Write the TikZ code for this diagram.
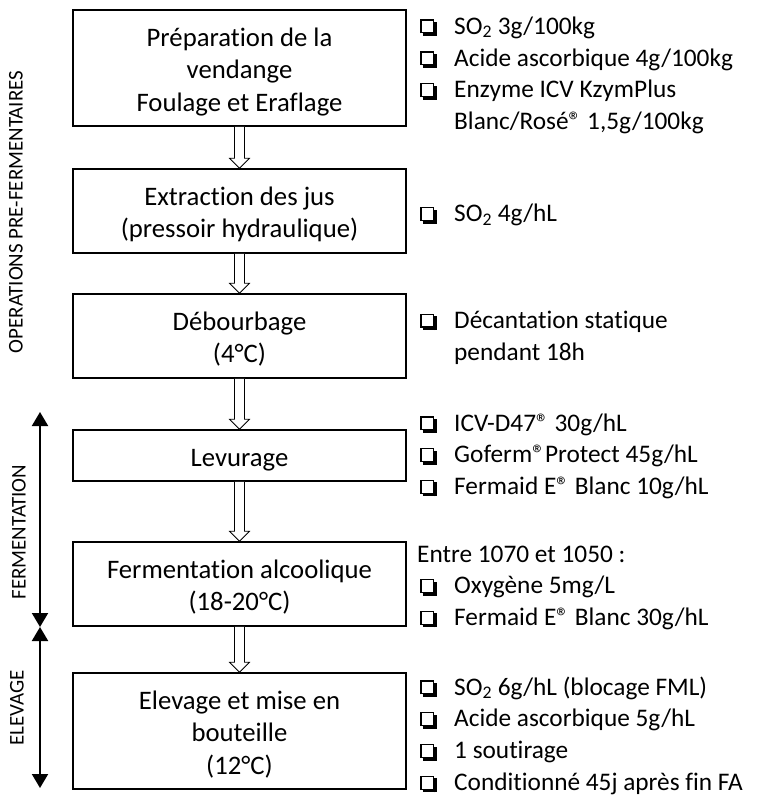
\documentclass[tikz,border=0pt]{standalone}
\usepackage{fontspec}
\setmainfont{Carlito}[Ligatures={NoCommon}]
\usetikzlibrary{arrows.meta,calc}
% shadowed check box glyph (Wingdings-like)
\newcommand\chkglyph{{\setlength{\unitlength}{1bp}%
  \raisebox{0.8bp}{\begin{picture}(16.5,14)(0,0)
    \put(0,0){\rule{14bp}{1.3bp}}
    \put(0,12.7){\rule{14bp}{1.3bp}}
    \put(0,0){\rule{1.3bp}{14bp}}
    \put(12.7,0){\rule{1.3bp}{14bp}}
    \put(14,-2.5){\rule{2.5bp}{14bp}}
    \put(2.5,-2.5){\rule{14bp}{2.5bp}}
  \end{picture}}}}
\newcommand\chk{\makebox[34bp][l]{\chkglyph}}
\newcommand\ind{\hspace*{34bp}}
\newcommand\boxtext[1]{\raisebox{-4.2bp}[\height][\depth]{\begin{tabular}{@{}c@{}}#1\end{tabular}}}
\newcommand\hollow[2]{\path[hollowarrow] let \p1=(#1.south), \p2=(#2.north) in
  (\x1-5bp,\y1) -- (\x1-5bp,\y2+10bp) -- (\x1-10bp,\y2+10bp) -- (\x1,\y2) --
  (\x1+10bp,\y2+10bp) -- (\x1+5bp,\y2+10bp) -- (\x1+5bp,\y1);}
\begin{document}
\begin{tikzpicture}[x=1bp,y=-1bp,
  stepbox/.style={draw, line width=1.5bp, minimum width=333bp,
    inner sep=0pt, font=\fontsize{26.8}{32.5}\selectfont},
  note/.style={anchor=west, inner sep=0pt, font=\fontsize{25.4}{32}\selectfont},
  hollowarrow/.style={draw, line width=0.8bp, fill=white},
  phase/.style={rotate=90, inner sep=0pt, font=\fontsize{21}{25}\selectfont},
  phasearrow/.style={line width=2bp,
    {Triangle[length=14bp,width=16bp]}-{Triangle[length=14bp,width=16bp]}}
]
\useasboundingbox (0,0) rectangle (761,796);

% process boxes
\node[stepbox, minimum height=116bp] (b1) at (239.5,68)
  {\boxtext{Préparation de la\\vendange\\Foulage et Eraflage}};
\node[stepbox, minimum height=84bp] (b2) at (239.5,211)
  {\boxtext{Extraction des jus\\(pressoir hydraulique)}};
\node[stepbox, minimum height=84bp] (b3) at (239.5,336)
  {\boxtext{Débourbage\\(4°C)}};
\node[stepbox, minimum height=51bp] (b4) at (239.5,455.5)
  {\boxtext{Levurage}};
\node[stepbox, minimum height=84bp] (b5) at (239.5,584)
  {\boxtext{Fermentation alcoolique\\(18-20°C)}};
\node[stepbox, minimum height=116bp] (b6) at (239.5,731)
  {\boxtext{Elevage et mise en\\bouteille\\(12°C)}};

% hollow arrows
\hollow{b1}{b2}
\hollow{b2}{b3}
\hollow{b3}{b4}
\hollow{b4}{b5}
\hollow{b5}{b6}

% notes
\node[note] (n1) at (420,75.6) {\begin{tabular}{@{}l@{}}
  \chk SO\textsubscript{2} 3g/100kg\\
  \chk Acide ascorbique 4g/100kg\\
  \chk Enzyme ICV KzymPlus\\
  \ind Blanc/Rosé® 1,5g/100kg\end{tabular}};
\node[note] (n2) at (420,215.6) {\begin{tabular}{@{}l@{}}
  \chk SO\textsubscript{2} 4g/hL\end{tabular}};
\node[note] (n3) at (420,338) {\begin{tabular}{@{}l@{}}
  \chk Décantation statique\\
  \ind pendant 18h\end{tabular}};
\node[note] (n4) at (420,456.5) {\begin{tabular}{@{}l@{}}
  \chk ICV-D47® 30g/hL\\
  \chk Goferm®Protect 45g/hL\\
  \chk Fermaid E® Blanc 10g/hL\end{tabular}};
\node[note] (n5) at (417,587.5) {\begin{tabular}{@{}l@{}}
  Entre 1070 et 1050 :\\
  \hspace*{3bp}\chk Oxygène 5mg/L\\
  \hspace*{3bp}\chk Fermaid E® Blanc 30g/hL\end{tabular}};
\node[note] (n6) at (420,736.5) {\begin{tabular}{@{}l@{}}
  \chk SO\textsubscript{2} 6g/hL (blocage FML)\\
  \chk Acide ascorbique 5g/hL\\
  \chk 1 soutirage\\
  \chk Conditionné 45j après fin FA\end{tabular}};

% phase labels
\node[phase] (p1) at (16,212) {OPERATIONS PRE-FERMENTAIRES};
\node[phase] (p2) at (19,532) {FERMENTATION};
\node[phase] (p3) at (17,708) {ELEVAGE};

% phase arrows
\coordinate (f1) at (40,412);
\coordinate (f2) at (40,627);
\coordinate (e2) at (40,788);
\draw[phasearrow] (f1) -- (f2);
\draw[phasearrow] (f2) -- (e2);
\end{tikzpicture}
\end{document}
